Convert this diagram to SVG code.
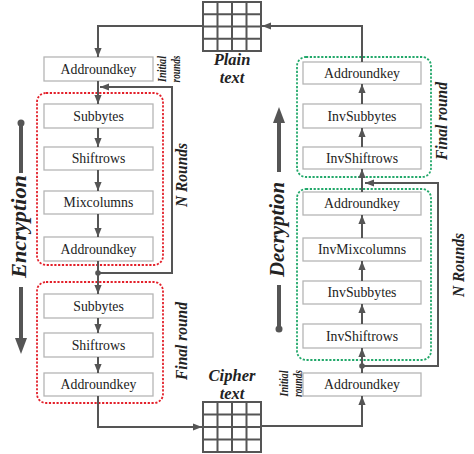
<svg xmlns="http://www.w3.org/2000/svg" width="474" height="454" viewBox="0 0 474 454">
<style>
.box{fill:#fff;stroke:#b5b5b5;stroke-width:1.3}
.bt{font-family:"Liberation Serif",serif;font-size:13.8px;fill:#222;text-anchor:middle}
.lab{font-family:"Liberation Serif",serif;font-weight:bold;font-style:italic;fill:#222;text-anchor:middle}
.ln{fill:none;stroke:#555;stroke-width:2}
.red{fill:none;stroke:#e3202a;stroke-width:1.8;stroke-dasharray:2.2 1.6}
.grn{fill:none;stroke:#22a86a;stroke-width:1.8;stroke-dasharray:2.2 1.6}
.grid{fill:#fff;stroke:#555;stroke-width:2}
</style>
<defs>
<marker id="arr" viewBox="0 0 10 8" refX="10" refY="4" markerWidth="9" markerHeight="7.5" orient="auto" markerUnits="userSpaceOnUse">
<path d="M0,0 L10,4 L0,8 z" fill="#555"/>
</marker>
</defs>

<g id="plain-text">
<rect class="grid" x="203" y="2" width="58" height="49"/>
<path class="ln" d="M217.5,2V51M232,2V51M246.5,2V51M203,14.25H261M203,26.5H261M203,38.75H261"/>
<text class="lab" x="232" y="64.5" font-size="16.5">Plain</text>
<text class="lab" x="232" y="82.5" font-size="16.5">text</text>
</g>

<g id="cipher-text">
<rect class="grid" x="203" y="402" width="58" height="50"/>
<path class="ln" d="M217.5,402V452M232,402V452M246.5,402V452M203,414.5H261M203,427H261M203,439.5H261"/>
<text class="lab" x="232" y="380.5" font-size="16.5">Cipher</text>
<text class="lab" x="232" y="398.5" font-size="16.5">text</text>
</g>

<g id="enc-rounds">
<rect class="red" x="37" y="93" width="126" height="172" rx="9"/>
<rect class="red" x="37" y="282" width="126" height="121" rx="9"/>
</g>
<g id="dec-rounds">
<rect class="grn" x="297" y="57" width="134" height="120" rx="9"/>
<rect class="grn" x="297" y="189" width="134" height="171" rx="9"/>
</g>

<g id="enc-ark0"><rect class="box" x="44" y="57" width="109" height="24"/><text class="bt" x="98.5" y="73.5">Addroundkey</text></g>
<g id="enc-sb1"><rect class="box" x="44" y="104" width="109" height="24"/><text class="bt" x="98.5" y="120.5">Subbytes</text></g>
<g id="enc-sr1"><rect class="box" x="44" y="147" width="109" height="23"/><text class="bt" x="98.5" y="163">Shiftrows</text></g>
<g id="enc-mc1"><rect class="box" x="44" y="191" width="109" height="23"/><text class="bt" x="98.5" y="207">Mixcolumns</text></g>
<g id="enc-ark1"><rect class="box" x="44" y="237" width="109" height="24"/><text class="bt" x="98.5" y="253.5">Addroundkey</text></g>
<g id="enc-sb2"><rect class="box" x="44" y="294" width="109" height="24"/><text class="bt" x="98.5" y="310.5">Subbytes</text></g>
<g id="enc-sr2"><rect class="box" x="44" y="333" width="109" height="24"/><text class="bt" x="98.5" y="349.5">Shiftrows</text></g>
<g id="enc-ark2"><rect class="box" x="44" y="373" width="109" height="23"/><text class="bt" x="98.5" y="389">Addroundkey</text></g>

<g id="dec-ark-f"><rect class="box" x="303" y="62" width="118" height="22"/><text class="bt" x="362" y="77.5">Addroundkey</text></g>
<g id="dec-isb-f"><rect class="box" x="303" y="104" width="118" height="24"/><text class="bt" x="362" y="120.5">InvSubbytes</text></g>
<g id="dec-isr-f"><rect class="box" x="303" y="147" width="118" height="22"/><text class="bt" x="362" y="162.5">InvShiftrows</text></g>
<g id="dec-ark-n"><rect class="box" x="303" y="192" width="118" height="23"/><text class="bt" x="362" y="208">Addroundkey</text></g>
<g id="dec-imc"><rect class="box" x="303" y="238" width="118" height="23"/><text class="bt" x="362" y="254">InvMixcolumns</text></g>
<g id="dec-isb-n"><rect class="box" x="303" y="281" width="118" height="23"/><text class="bt" x="362" y="297">InvSubbytes</text></g>
<g id="dec-isr-n"><rect class="box" x="303" y="324" width="118" height="24"/><text class="bt" x="362" y="340.5">InvShiftrows</text></g>
<g id="dec-ark-i"><rect class="box" x="303" y="373" width="118" height="23"/><text class="bt" x="362" y="389">Addroundkey</text></g>

<g id="connectors">
<path class="ln" d="M203,26H98V57" marker-end="url(#arr)"/>
<path class="ln" d="M98,81V104" marker-end="url(#arr)"/>
<path class="ln" d="M98,128V147" marker-end="url(#arr)"/>
<path class="ln" d="M98,170V191" marker-end="url(#arr)"/>
<path class="ln" d="M98,214V237" marker-end="url(#arr)"/>
<path class="ln" d="M98,261V294" marker-end="url(#arr)"/>
<path class="ln" d="M98,273H172V87H100" marker-end="url(#arr)"/>
<circle cx="98" cy="273" r="2.8" fill="#555"/>
<path class="ln" d="M98,318V333" marker-end="url(#arr)"/>
<path class="ln" d="M98,357V373" marker-end="url(#arr)"/>
<path class="ln" d="M98,396V427H202" marker-end="url(#arr)"/>

<path class="ln" d="M261,426H362V396" marker-end="url(#arr)"/>
<path class="ln" d="M362,373V348" marker-end="url(#arr)"/>
<path class="ln" d="M362,366H438V183H365" marker-end="url(#arr)"/>
<circle cx="362" cy="366" r="2.8" fill="#555"/>
<path class="ln" d="M362,324V304" marker-end="url(#arr)"/>
<path class="ln" d="M362,281V261" marker-end="url(#arr)"/>
<path class="ln" d="M362,238V215" marker-end="url(#arr)"/>
<path class="ln" d="M362,192V169" marker-end="url(#arr)"/>
<path class="ln" d="M362,147V128" marker-end="url(#arr)"/>
<path class="ln" d="M362,104V84" marker-end="url(#arr)"/>
<path class="ln" d="M362,62V26H262" marker-end="url(#arr)"/>
</g>

<g id="enc-label">
<circle cx="21" cy="123" r="3.5" fill="#555"/>
<path d="M21,123V173M21,287V340" stroke="#555" stroke-width="4"/>
<path d="M15,338L27,338L21,354z" fill="#555"/>
<text class="lab" transform="translate(26,226.5) rotate(-90)" font-size="21" textLength="103" lengthAdjust="spacingAndGlyphs">Encryption</text>
</g>
<g id="dec-label">
<circle cx="279" cy="329" r="3.5" fill="#555"/>
<path d="M279,329V285M279,172V121" stroke="#555" stroke-width="4"/>
<path d="M273,123L285,123L279,107z" fill="#555"/>
<text class="lab" transform="translate(284,229.5) rotate(-90)" font-size="21" textLength="95" lengthAdjust="spacingAndGlyphs">Decryption</text>
</g>

<g id="round-labels">
<text class="lab" transform="translate(166,69) rotate(-90)" font-size="12" textLength="26" lengthAdjust="spacingAndGlyphs">Initial</text>
<text class="lab" transform="translate(180,69) rotate(-90)" font-size="12" textLength="27" lengthAdjust="spacingAndGlyphs">rounds</text>
<text class="lab" transform="translate(186.5,175) rotate(-90)" font-size="16" textLength="64" lengthAdjust="spacingAndGlyphs">N Rounds</text>
<text class="lab" transform="translate(186.5,341) rotate(-90)" font-size="16" textLength="78" lengthAdjust="spacingAndGlyphs">Final round</text>
<text class="lab" transform="translate(446.5,121) rotate(-90)" font-size="16" textLength="78" lengthAdjust="spacingAndGlyphs">Final round</text>
<text class="lab" transform="translate(463.5,265) rotate(-90)" font-size="16" textLength="64" lengthAdjust="spacingAndGlyphs">N Rounds</text>
<text class="lab" transform="translate(288,383.5) rotate(-90)" font-size="12" textLength="26" lengthAdjust="spacingAndGlyphs">Initial</text>
<text class="lab" transform="translate(302,383.5) rotate(-90)" font-size="12" textLength="27" lengthAdjust="spacingAndGlyphs">rounds</text>
</g>
</svg>
